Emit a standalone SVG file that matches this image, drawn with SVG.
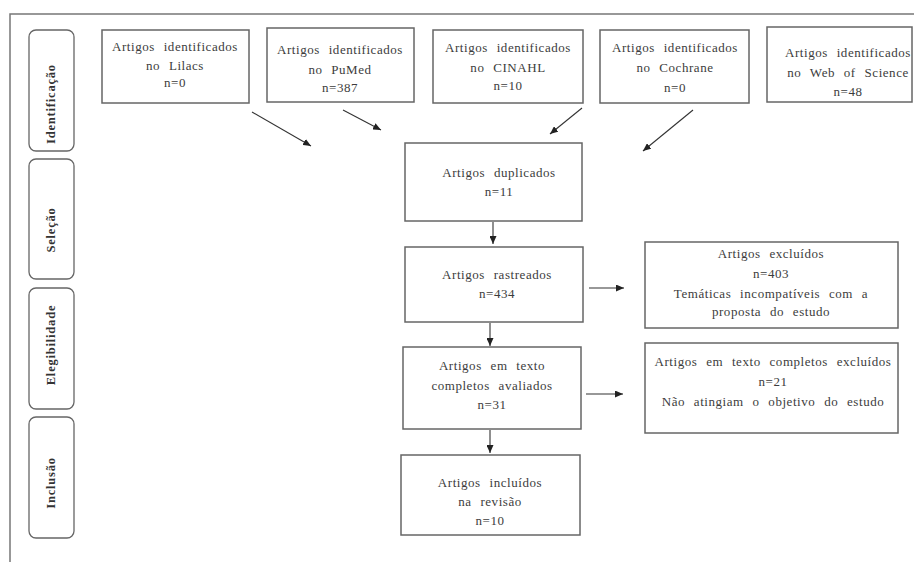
<svg xmlns="http://www.w3.org/2000/svg" width="914" height="562" viewBox="0 0 914 562">
<style>
.frame{fill:none;stroke:#777;stroke-width:1.5}
.box{fill:#fff;stroke:#666;stroke-width:1.5}
.phase{fill:#fff;stroke:#666;stroke-width:1.3}
.t{font-family:"Liberation Serif","Times New Roman",serif;font-size:13px;fill:#3c3c3c;text-anchor:middle;letter-spacing:0.55px;word-spacing:5px}
.p{font-family:"Liberation Serif","Times New Roman",serif;font-size:12.5px;font-weight:bold;fill:#333;text-anchor:middle;letter-spacing:0.8px}
.c{fill:none;stroke:#333;stroke-width:1.1;marker-end:url(#ah)}
</style>
<defs>
<marker id="ah" markerUnits="userSpaceOnUse" markerWidth="8" markerHeight="7" refX="8" refY="3.5" orient="auto">
<path d="M0,0 L8,3.5 L0,7 z" fill="#222"/>
</marker>
</defs>
<rect width="914" height="562" fill="#fff"/>
<path class="frame" d="M10,562 L10,14 L914,14"/>

<g id="phase-identificacao"><rect class="phase" x="29" y="30" width="45" height="121" rx="7"/><text class="p" transform="translate(55,104) rotate(-90)">Identificação</text></g>
<g id="phase-selecao"><rect class="phase" x="29" y="159" width="45" height="120" rx="7"/><text class="p" transform="translate(55,230) rotate(-90)">Seleção</text></g>
<g id="phase-elegibilidade"><rect class="phase" x="29" y="288" width="45" height="121" rx="7"/><text class="p" transform="translate(55,345) rotate(-90)">Elegibilidade</text></g>
<g id="phase-inclusao"><rect class="phase" x="29" y="417" width="45" height="121" rx="7"/><text class="p" transform="translate(55,483) rotate(-90)">Inclusão</text></g>

<g id="lilacs"><rect class="box" x="102" y="30" width="147" height="73"/>
<text class="t" x="175" y="51">Artigos identificados</text><text class="t" x="175" y="70">no Lilacs</text><text class="t" x="175" y="87">n=0</text></g>
<g id="pubmed"><rect class="box" x="267" y="28" width="147" height="74"/>
<text class="t" x="340" y="54">Artigos identificados</text><text class="t" x="340" y="74">no PuMed</text><text class="t" x="340" y="92">n=387</text></g>
<g id="cinahl"><rect class="box" x="433" y="30" width="150" height="73"/>
<text class="t" x="508" y="52">Artigos identificados</text><text class="t" x="508" y="72">no CINAHL</text><text class="t" x="508" y="90">n=10</text></g>
<g id="cochrane"><rect class="box" x="600" y="30" width="149" height="73"/>
<text class="t" x="675" y="52">Artigos identificados</text><text class="t" x="675" y="72">no Cochrane</text><text class="t" x="675" y="92">n=0</text></g>
<g id="wos"><rect class="box" x="767" y="27" width="145" height="75"/>
<text class="t" x="848" y="57">Artigos identificados</text><text class="t" x="848" y="77">no Web of Science</text><text class="t" x="848" y="96">n=48</text></g>

<g id="duplicados"><rect class="box" x="405" y="143" width="177" height="78"/>
<text class="t" x="499" y="177">Artigos duplicados</text><text class="t" x="499" y="196">n=11</text></g>
<g id="rastreados"><rect class="box" x="405" y="247" width="178" height="75"/>
<text class="t" x="497" y="279">Artigos rastreados</text><text class="t" x="497" y="298">n=434</text></g>
<g id="excluidos"><rect class="box" x="645" y="242" width="253" height="86"/>
<text class="t" x="771" y="258">Artigos excluídos</text><text class="t" x="771" y="278">n=403</text><text class="t" x="771" y="298">Temáticas incompatíveis com a</text><text class="t" x="771" y="316">proposta do estudo</text></g>
<g id="avaliados"><rect class="box" x="403" y="347" width="178" height="82"/>
<text class="t" x="492" y="370">Artigos em texto</text><text class="t" x="492" y="390">completos avaliados</text><text class="t" x="492" y="409">n=31</text></g>
<g id="excluidos-texto"><rect class="box" x="645" y="343" width="253" height="90"/>
<text class="t" x="773" y="366">Artigos em texto completos excluídos</text><text class="t" x="773" y="386">n=21</text><text class="t" x="773" y="406">Não atingiam  o objetivo  do estudo</text></g>
<g id="incluidos"><rect class="box" x="401" y="455" width="179" height="80"/>
<text class="t" x="490" y="487">Artigos incluídos</text><text class="t" x="490" y="506">na revisão</text><text class="t" x="490" y="525">n=10</text></g>

<g id="connectors">
<line class="c" x1="252" y1="112" x2="311" y2="146"/>
<line class="c" x1="343" y1="110" x2="381" y2="130"/>
<line class="c" x1="582" y1="108" x2="550" y2="134"/>
<line class="c" x1="693" y1="110" x2="643" y2="151"/>
<line class="c" x1="493" y1="222" x2="493" y2="244"/>
<line class="c" x1="589" y1="288" x2="624" y2="288"/>
<line class="c" x1="490" y1="323" x2="490" y2="346"/>
<line class="c" x1="586" y1="394" x2="623" y2="394"/>
<line class="c" x1="490" y1="430" x2="490" y2="453"/>
</g>
</svg>
